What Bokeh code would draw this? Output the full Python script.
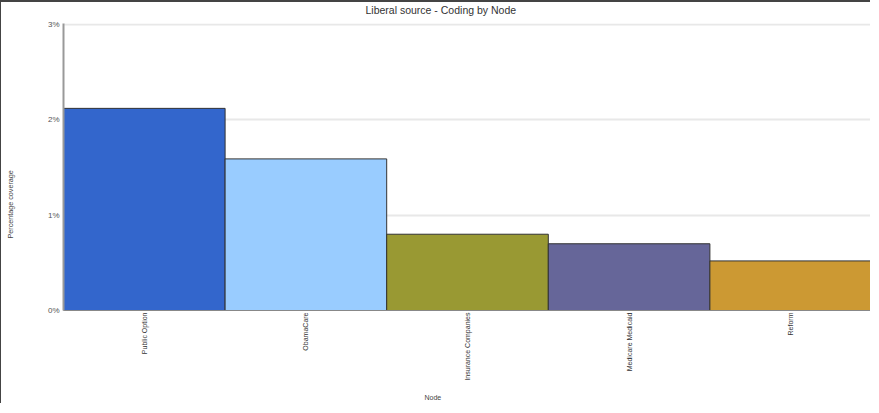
import math
from bokeh.plotting import figure
from bokeh.models import ColumnDataSource, FixedTicker, PrintfTickFormatter, Title, FactorRange, Range1d
from bokeh.embed import file_html
from bokeh.resources import INLINE

nodes = ["Public Option", "ObamaCare", "Insurance Companies", "Medicare Medicaid", "Reform"]
coverage = [2.12, 1.59, 0.80, 0.70, 0.52]
colors = ["#3366CC", "#99CCFF", "#999933", "#666699", "#CC9933"]
y_ticks = [0, 1, 2, 3]

src = ColumnDataSource(dict(node=nodes, cov=coverage, color=colors))

FONT = "Liberation Sans"

p = figure(width=870, height=403, x_range=FactorRange(*nodes, range_padding=0),
           y_range=Range1d(0, 3.01), output_backend="svg", toolbar_location=None,
           min_border_left=62, min_border_right=0, min_border_top=21, min_border_bottom=95)
p.styles = {"border-top": "2px solid #444", "border-left": "1px solid #444"}

p.vbar(x="node", top="cov", width=1.0, source=src, fill_color="color",
       line_color="#333333", line_width=1)

p.outline_line_color = None
p.xgrid.grid_line_color = None
p.ygrid.grid_line_color = "#e8e8e8"
p.ygrid.grid_line_width = 2
p.ygrid.ticker = FixedTicker(ticks=y_ticks)

p.yaxis.ticker = FixedTicker(ticks=y_ticks)
p.yaxis.formatter = PrintfTickFormatter(format="%d%%")
p.yaxis.axis_line_color = "#999999"
p.yaxis.axis_line_width = 2
p.yaxis.major_tick_line_color = None
p.yaxis.minor_tick_line_color = None
p.yaxis.major_tick_out = 0
p.yaxis.major_tick_in = 0
p.yaxis.minor_tick_out = 0
p.yaxis.major_label_text_font = FONT
p.yaxis.major_label_text_font_size = "8px"
p.yaxis.major_label_text_color = "#555555"
p.yaxis.major_label_standoff = 4

p.xaxis.axis_line_color = "#888888"
p.xaxis.axis_line_width = 1
p.xaxis.major_tick_line_color = None
p.xaxis.minor_tick_line_color = None
p.xaxis.major_tick_out = 0
p.xaxis.major_tick_in = 0
p.xaxis.minor_tick_out = 0
p.xaxis.major_label_orientation = math.pi / 2
p.xaxis.major_label_text_font = FONT
p.xaxis.major_label_text_font_size = "7px"
p.xaxis.major_label_text_color = "#333333"
p.xaxis.major_label_standoff = 2

# spacers (blank titles) to push the real titles away from the frame
p.add_layout(Title(text=" ", text_font_size="1px", standoff=3), "above")
p.add_layout(Title(text=" ", text_font_size="1px", standoff=24), "left")
p.add_layout(Title(text=" ", text_font_size="1px", standoff=3), "below")

p.title.text = "Liberal source - Coding by Node"
p.title.align = "left"
p.title.offset = 302
p.title.vertical_align = "top"
p.title.text_font = FONT
p.title.text_font_size = "10.5px"
p.title.text_font_style = "normal"
p.title.text_color = "#333333"
p.title.standoff = 0

p.add_layout(Title(text="Percentage coverage", align="left", offset=72, standoff=2,
                   text_font=FONT, text_font_size="7.2px", text_font_style="normal",
                   text_color="#444444", vertical_align="top"), "left")
p.add_layout(Title(text="Node", align="left", offset=361, standoff=4,
                   text_font=FONT, text_font_size="7px", text_font_style="normal",
                   text_color="#444444"), "below")

open("out.html", "w").write(file_html(p, INLINE))
